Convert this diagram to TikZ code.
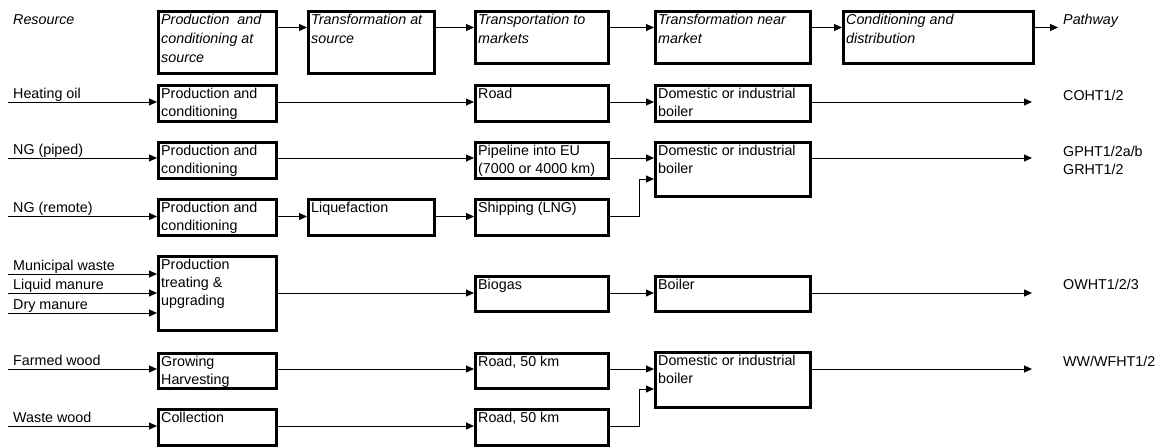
\documentclass[tikz,border=0pt]{standalone}
\usepackage{fontspec}
\setmainfont{Liberation Sans}
\usetikzlibrary{arrows.meta,calc}
\tikzset{
  boxst/.style={draw, line width=2.6pt, inner sep=0pt, anchor=north west},
  conn/.style={line width=1pt, -{Triangle[length=8pt,width=7pt]}},
  txt/.style={anchor=base west, inner sep=0pt},
}
\newcommand\ml[2][17.5]{\parbox[t]{300pt}{\fontsize{14.3}{#1}\selectfont #2}}
% name, x1, y1, x2, y2, text, baselineskip
\newcommand\bx[7][17.5]{%
  \node[boxst, minimum width={(#4-#2-2.6)*1pt}, minimum height={(#5-#3-2.6)*1pt}] (#1) at (#2,#3) {};
  \node[txt] (#1t) at ([shift={(4,14.5)}]#1.north west) {\ml[#1]{#7}};
}
\newcommand\bxx[6]{%
  \node[boxst, minimum width={(#4-#2-2.6)*1pt}, minimum height={(#5-#3-2.6)*1pt}] (#1) at (#2,#3) {};
  \node[txt] (#1t) at ([shift={(4,14.5)}]#1.north west) {#6};
}
\begin{document}
\begin{tikzpicture}[x=1pt,y=-1pt]
\useasboundingbox (0,0) rectangle (1165,447);
% header
\node[txt] (hres) at (13,24) {\ml{\itshape Resource}};
\bxx{H1}{157}{10}{278}{75}{\ml[19]{\itshape Production\ \ and\\conditioning at\\source}}
\bxx{H2}{307}{10}{436}{75}{\ml[19]{\itshape Transformation at\\source}}
\bxx{H3}{474}{10}{610}{65}{\ml[19]{\itshape Transportation to\\markets}}
\bxx{H4}{654}{10}{812}{65}{\ml[19]{\itshape Transformation near\\market}}
\bxx{H5}{842}{10}{1035}{65}{\ml[19]{\itshape Conditioning and\\distribution}}
\coordinate (hr) at (0,27.5);
\coordinate (hend) at (1058,27.5);
\draw[conn] (hr -| H1.east) -- (hr -| H2.west);
\draw[conn] (hr -| H2.east) -- (hr -| H3.west);
\draw[conn] (hr -| H3.east) -- (hr -| H4.west);
\draw[conn] (hr -| H4.east) -- (hr -| H5.west);
\draw[conn] (hr -| H5.east) -- (hend);
\node[txt] (hpath) at (1063,24) {\ml{\itshape Pathway}};

% row 1: heating oil
\coordinate (r1) at (8,102);
\node[txt] (l1) at (13,98) {\ml{Heating oil}};
\bxx{P1}{157}{84}{278}{123}{\ml{Production and\\conditioning}}
\bxx{R1}{474}{84}{610}{123}{\ml{Road}}
\bxx{D1}{654}{84}{812}{123}{\ml{Domestic or industrial\\boiler}}
\coordinate (e1) at (1032,102);
\draw[conn] (r1) -- (r1 -| P1.west);
\draw[conn] (r1 -| P1.east) -- (r1 -| R1.west);
\draw[conn] (r1 -| R1.east) -- (r1 -| D1.west);
\draw[conn] (r1 -| D1.east) -- (e1);
\node[txt] (p1) at (1063,100) {\ml{COHT1/2}};

% row 2: NG piped
\coordinate (r2) at (8,158);
\node[txt] (l2) at (13,154) {\ml{NG (piped)}};
\bxx{P2}{157}{141}{278}{180}{\ml{Production and\\conditioning}}
\bxx{R2}{474}{141}{610}{180}{\ml{Pipeline into EU\\(7000 or 4000 km)}}
\bxx{D2}{654}{141}{812}{198}{\ml{Domestic or industrial\\boiler}}
\coordinate (e2) at (1032,158);
\draw[conn] (r2) -- (r2 -| P2.west);
\draw[conn] (r2 -| P2.east) -- (r2 -| R2.west);
\draw[conn] (r2 -| R2.east) -- (r2 -| D2.west);
\draw[conn] (r2 -| D2.east) -- (e2);
\node[txt] (p2) at (1063,156) {\ml[18]{GPHT1/2a/b\\GRHT1/2}};

% row 3: NG remote
\coordinate (r3) at (8,216.5);
\node[txt] (l3) at (13,212.5) {\ml{NG (remote)}};
\bxx{P3}{157}{198}{278}{237}{\ml{Production and\\conditioning}}
\bxx{L3}{307}{198}{436}{237}{\ml{Liquefaction}}
\bxx{S3}{474}{198}{610}{237}{\ml{Shipping (LNG)}}
\coordinate (k3) at (639,179);
\draw[conn] (r3) -- (r3 -| P3.west);
\draw[conn] (r3 -| P3.east) -- (r3 -| L3.west);
\draw[conn] (r3 -| L3.east) -- (r3 -| S3.west);
\draw[conn] (r3 -| S3.east) -| (k3) -- (k3 -| D2.west);

% row 4: wastes
\coordinate (r4a) at (8,274);
\coordinate (r4b) at (8,293);
\coordinate (r4c) at (8,313);
\node[txt] (l4a) at (13,270) {\ml{Municipal waste}};
\node[txt] (l4b) at (13,289) {\ml{Liquid manure}};
\node[txt] (l4c) at (13,309) {\ml{Dry manure}};
\bxx{P4}{157}{255}{278}{332}{\ml[18]{Production\\treating \&\\upgrading}}
\bxx{B4}{474}{275}{610}{313}{\ml{Biogas}}
\bxx{O4}{654}{275}{812}{313}{\ml{Boiler}}
\coordinate (e4) at (1032,293);
\draw[conn] (r4a) -- (r4a -| P4.west);
\draw[conn] (r4b) -- (r4b -| P4.west);
\draw[conn] (r4c) -- (r4c -| P4.west);
\draw[conn] (r4b -| P4.east) -- (r4b -| B4.west);
\draw[conn] (r4b -| B4.east) -- (r4b -| O4.west);
\draw[conn] (r4b -| O4.east) -- (e4);
\node[txt] (p4) at (1063,289) {\ml{OWHT1/2/3}};

% row 5: farmed wood
\coordinate (r5) at (8,369);
\node[txt] (l5) at (13,365) {\ml{Farmed wood}};
\bxx{P5}{157}{352}{278}{390}{\ml{Growing\\Harvesting}}
\bxx{R5}{474}{352}{610}{390}{\ml{Road, 50 km}}
\bxx{D5}{654}{351}{812}{409}{\ml{Domestic or industrial\\boiler}}
\coordinate (e5) at (1032,369);
\draw[conn] (r5) -- (r5 -| P5.west);
\draw[conn] (r5 -| P5.east) -- (r5 -| R5.west);
\draw[conn] (r5 -| R5.east) -- (r5 -| D5.west);
\draw[conn] (r5 -| D5.east) -- (e5);
\node[txt] (p5) at (1063,366) {\ml{WW/WFHT1/2}};

% row 6: waste wood
\coordinate (r6) at (8,426);
\node[txt] (l6) at (13,422) {\ml{Waste wood}};
\bxx{P6}{157}{408}{278}{447}{\ml{Collection}}
\bxx{R6}{474}{408}{610}{447}{\ml{Road, 50 km}}
\coordinate (k6) at (639,389);
\draw[conn] (r6) -- (r6 -| P6.west);
\draw[conn] (r6 -| P6.east) -- (r6 -| R6.west);
\draw[conn] (r6 -| R6.east) -| (k6) -- (k6 -| D5.west);
\end{tikzpicture}
\end{document}
